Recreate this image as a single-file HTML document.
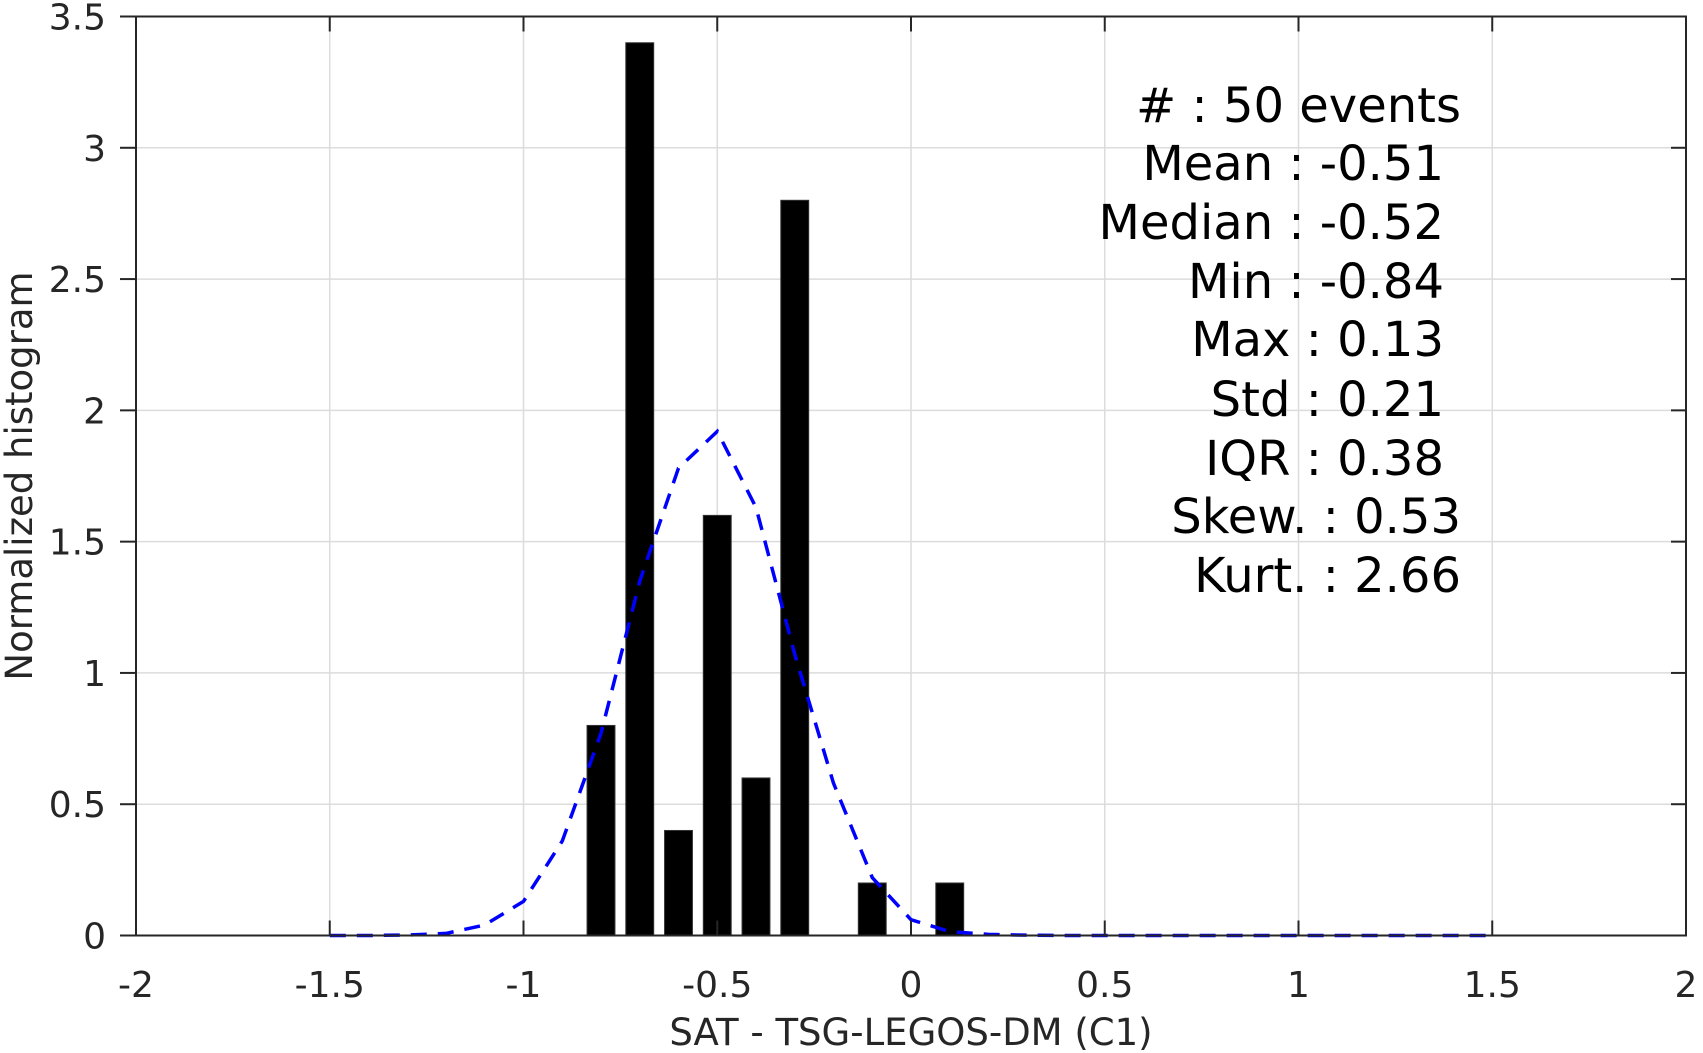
<!DOCTYPE html>
<html><head><meta charset="utf-8"><style>
html,body{margin:0;padding:0;background:#fff}
svg{display:block;font-family:"DejaVu Sans","Liberation Sans",sans-serif}
</style></head><body>
<svg id="chart" width="1703" height="1053" viewBox="0 0 1703 1053" xmlns="http://www.w3.org/2000/svg">
<g id="grid"></g>
<g id="bars"></g>
<path id="fit" fill="none" stroke="#0000ff" stroke-width="3.5" stroke-dasharray="16,11"/>
<g id="axes"></g>
<g id="stats" font-size="48" fill="#000" text-anchor="end"></g>
<text x="911" y="1045" font-size="37" fill="#262626" text-anchor="middle">SAT - TSG-LEGOS-DM (C1)</text>
<text transform="translate(32,476) rotate(-90)" font-size="37" fill="#262626" text-anchor="middle">Normalized histogram</text>
</svg>
<script>
const barCenters=[-0.8,-0.7,-0.6,-0.5,-0.4,-0.3,-0.1,0.1];
const barHeights=[0.8,3.4,0.4,1.6,0.6,2.8,0.2,0.2];
const curveX=[-1.5,-1.4,-1.3,-1.2,-1.1,-1.0,-0.9,-0.8,-0.7,-0.6,-0.5,-0.4,-0.3,-0.2,-0.1,0,0.1,0.2,0.3,0.4,0.5,0.6,0.7,0.8,0.9,1.0,1.1,1.2,1.3,1.4,1.5];
const curveY=[0,0,0.002,0.008,0.04,0.13,0.36,0.77,1.35,1.78,1.92,1.63,1.07,0.58,0.22,0.06,0.015,0.004,0.001,0,0,0,0,0,0,0,0,0,0,0,0];
const xTicks=[-2,-1.5,-1,-0.5,0,0.5,1,1.5,2];
const xTickLabels=["-2","-1.5","-1","-0.5","0","0.5","1","1.5","2"];
const yTicks=[0,0.5,1,1.5,2,2.5,3,3.5];
const yTickLabels=["0","0.5","1","1.5","2","2.5","3","3.5"];
const statLines=["#  : 50 events","Mean : -0.51","Median : -0.52","Min : -0.84","Max : 0.13","Std : 0.21","IQR : 0.38","Skew. : 0.53","Kurt. : 2.66"];
const statRight=[1461,1444,1444,1444,1444,1444,1444,1461,1461];
const barWidth=0.072;
const L=136,R=1686,T=16.5,B=935.5;
const X=v=>L+(v+2)/4*(R-L);
const Y=v=>B-v/3.5*(B-T);
const NS="http://www.w3.org/2000/svg";
function mk(tag,attrs,parent,text){const e=document.createElementNS(NS,tag);for(const k in attrs)e.setAttribute(k,attrs[k]);if(text!==undefined)e.textContent=text;parent.appendChild(e);return e;}
const grid=document.getElementById('grid'),axes=document.getElementById('axes'),bars=document.getElementById('bars');
xTicks.forEach((t,i)=>{
 const g=mk('line',{x1:X(t),x2:X(t),y1:T,y2:B,stroke:'#dcdcdc','stroke-width':1.5},grid);
 
 mk('line',{x1:X(t),x2:X(t),y1:B,y2:B-15,stroke:'#262626','stroke-width':2},axes);
 mk('line',{x1:X(t),x2:X(t),y1:T,y2:T+15,stroke:'#262626','stroke-width':2},axes);
 const tx=mk('text',{x:X(t),y:997,'font-size':36,fill:'#262626','text-anchor':'middle'},axes,xTickLabels[i]);
 
});
yTicks.forEach((t,i)=>{
 const g=mk('line',{x1:L,x2:R,y1:Y(t),y2:Y(t),stroke:'#dcdcdc','stroke-width':1.5},grid);
 
 mk('line',{x1:L,x2:L-16,y1:Y(t),y2:Y(t),stroke:'#262626','stroke-width':2},axes);
 mk('line',{x1:R,x2:R-15,y1:Y(t),y2:Y(t),stroke:'#262626','stroke-width':2},axes);
 const tx=mk('text',{x:106,y:Y(t)+13,'font-size':36,fill:'#262626','text-anchor':'end'},axes,yTickLabels[i]);
 
});
mk('rect',{x:L,y:T,width:R-L,height:B-T,fill:'none',stroke:'#262626','stroke-width':2},axes);
barCenters.forEach((c,i)=>{
 const r=mk('rect',{x:X(c-barWidth/2),y:Y(barHeights[i]),width:X(barWidth)-X(0),height:B-Y(barHeights[i]),fill:'#000',stroke:'#333','stroke-width':1},bars);
 
});
document.getElementById('fit').setAttribute('d',curveX.map((x,i)=>(i?'L':'M')+X(x).toFixed(1)+','+Y(curveY[i]).toFixed(1)).join(' '));
const stats=document.getElementById('stats');
const base=[122,180,239,298,356,416,475,533,592];
statLines.forEach((s,i)=>{
 const t=mk('text',{x:statRight[i],y:base[i],'xml:space':'preserve'},stats,s);
 
});
</script>
</body></html>
